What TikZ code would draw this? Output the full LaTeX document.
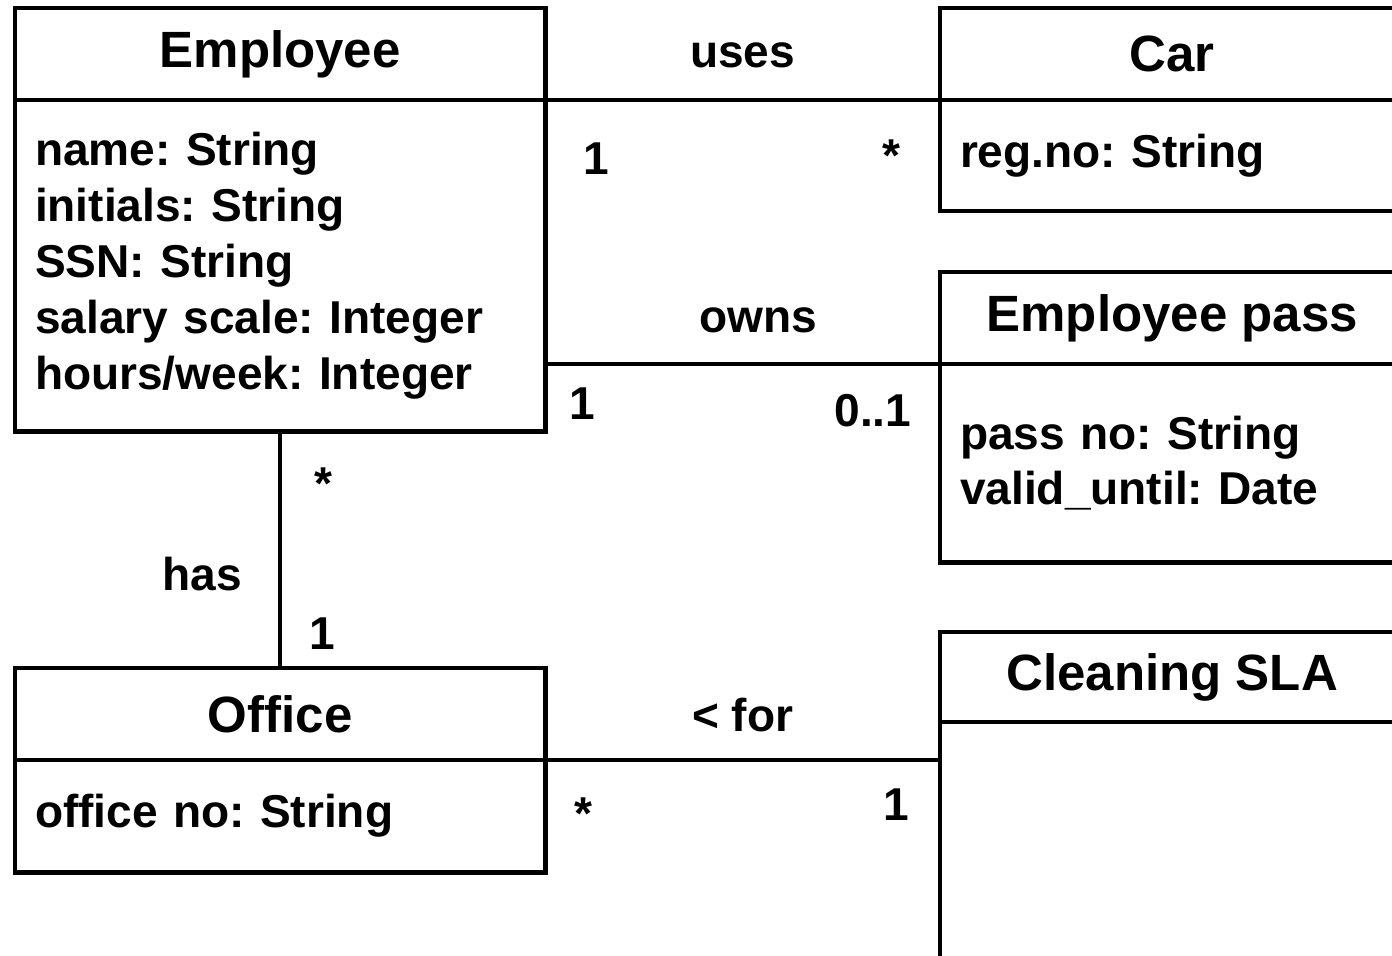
\documentclass[tikz,border=0pt]{standalone}
\usepackage{fontspec}
\setmainfont{Liberation Sans}
\usetikzlibrary{positioning}
\frenchspacing
\begin{document}
\begin{tikzpicture}[x=0.01cm,y=-0.01cm,line width=1.35pt,
  classname/.style={draw,anchor=north west,minimum height=0.92cm,inner sep=0pt,outer sep=0pt,font=\fontsize{14.5}{17}\selectfont\bfseries},
  attrs/.style={draw,below=0pt of #1,inner xsep=0.2cm,inner ysep=0pt,outer sep=0pt,align=left,font=\fontsize{13.1}{15.9}\selectfont\bfseries},
  mult/.style={font=\fontsize{13.1}{15.9}\selectfont\bfseries,anchor=base,inner sep=0pt}]
\path[use as bounding box](0,0)rectangle(1392,955);
\clip(0,0)rectangle(1392,955);
% classes
\node[classname,minimum width=5.3cm](emp)at(15,8){Employee};
\node[attrs=emp,text width=4.9cm,minimum height=3.31cm](empattr){name: String\\initials: String\\SSN: String\\salary scale: Integer\\hours/week: Integer};
\node[classname,minimum width=4.64cm](car)at(940,8){Car};
\node[attrs=car,text width=4.24cm,minimum height=1.11cm](carattr){reg.no: String};
\node[classname,minimum width=4.64cm](pass)at(940,272){Employee pass};
\node[attrs=pass,text width=4.24cm,minimum height=1.98cm](passattr){pass no: String\\valid\_until: Date};
\node[classname,minimum width=4.64cm,minimum height=0.9cm](sla)at(940,632){Cleaning SLA};
\node[attrs=sla,text width=4.24cm,minimum height=3cm](slaattr){};
\node[classname,minimum width=5.3cm](office)at(15,668){Office};
\node[attrs=office,text width=4.9cm,minimum height=1.12cm](officeattr){office no: String};
% associations
\draw(emp.south east)--node[mult,yshift=0.33cm](uses){uses}
  node[mult,pos=0.13,yshift=-0.74cm](usesemp){1}
  node[mult,pos=0.876,yshift=-0.71cm](usescar){*}(car.south west);
\draw(pass.south west -| emp.east)--node[mult,pos=0.54,yshift=0.32cm](owns){owns}
  node[mult,pos=0.094,yshift=-0.55cm](ownsemp){1}
  node[mult,pos=0.83,yshift=-0.62cm](ownspass){0..1}(pass.south west);
\draw[line width=1pt](empattr.south)--node[mult,pos=0.671,xshift=-0.78cm](has){has}
  node[mult,pos=0.287,xshift=0.43cm](hasemp){*}
  node[mult,pos=0.92,xshift=0.42cm](hasoffice){1}(office.north);
\draw(office.south east)--node[mult,yshift=0.29cm](forsla){< for}
  node[mult,pos=0.096,yshift=-0.69cm](foroffice){*}
  node[mult,pos=0.889,yshift=-0.60cm](forslaend){1}(office.south east -| slaattr.west);
\end{tikzpicture}
\end{document}
